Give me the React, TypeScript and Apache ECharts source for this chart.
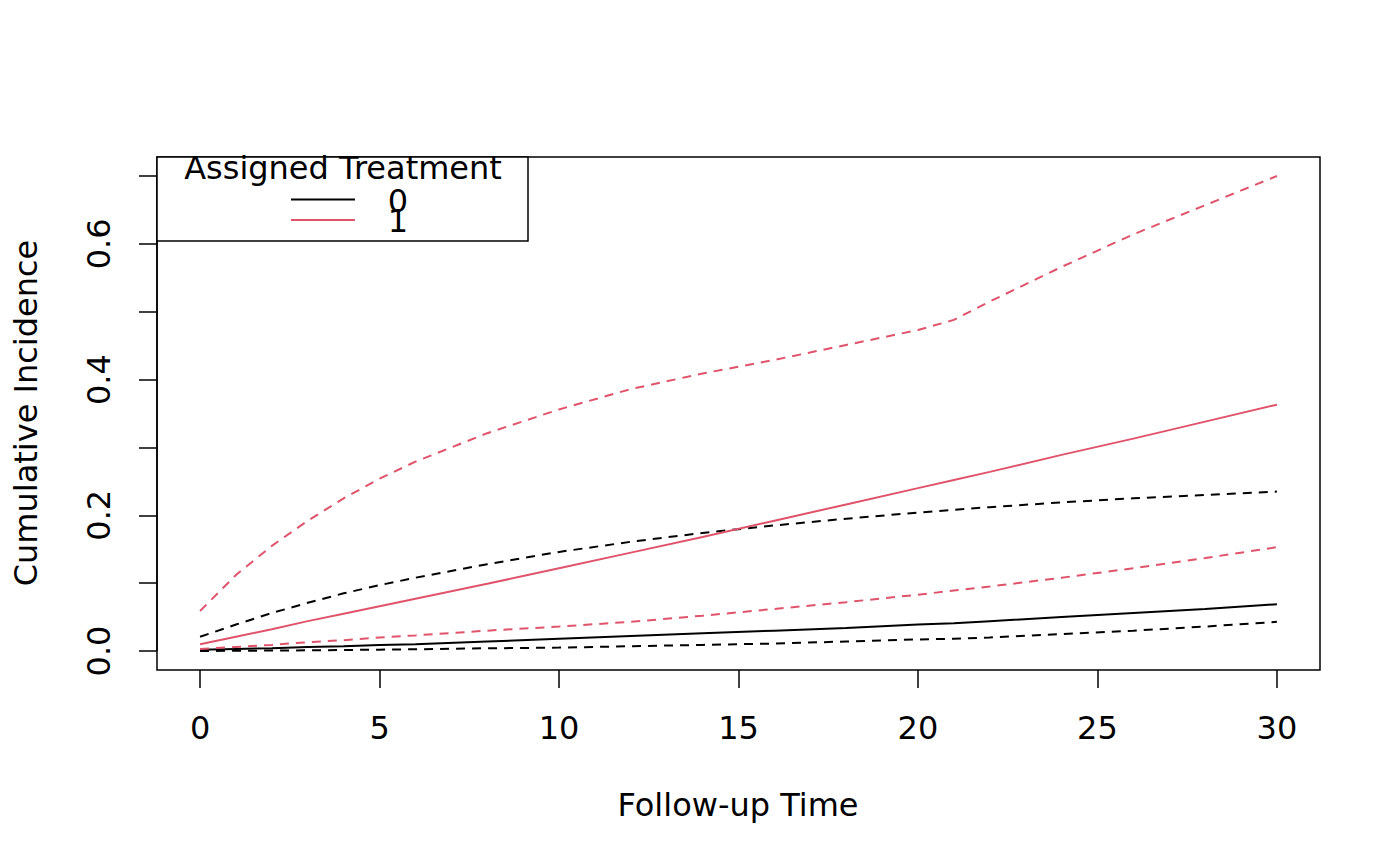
import React, { useEffect, useRef } from "react";
import * as echarts from "echarts";

// Follow-up times at which values were read
const times = [0, 1, 2, 3, 4, 5, 6, 8, 10, 12, 14, 16, 18, 20, 21, 22, 24, 26, 28, 30];

// Assigned treatment 0 (black)
const trt0Est = [0.002, 0.003, 0.004, 0.006, 0.007, 0.009, 0.010, 0.014, 0.018, 0.022, 0.026, 0.030, 0.034, 0.039, 0.041, 0.044, 0.050, 0.056, 0.062, 0.069];
const trt0Lower = [0.000, 0.0003, 0.0007, 0.001, 0.0015, 0.002, 0.0025, 0.004, 0.005, 0.007, 0.009, 0.011, 0.014, 0.017, 0.018, 0.020, 0.025, 0.030, 0.036, 0.043];
const trt0Upper = [0.021, 0.039, 0.056, 0.071, 0.085, 0.097, 0.108, 0.128, 0.146, 0.161, 0.174, 0.185, 0.195, 0.204, 0.208, 0.212, 0.219, 0.225, 0.230, 0.235];

// Assigned treatment 1 (red)
const trt1Est = [0.010, 0.021, 0.032, 0.044, 0.055, 0.066, 0.077, 0.099, 0.122, 0.145, 0.168, 0.192, 0.216, 0.240, 0.252, 0.264, 0.289, 0.313, 0.338, 0.363];
const trt1Lower = [0.003, 0.006, 0.009, 0.013, 0.016, 0.020, 0.023, 0.030, 0.036, 0.043, 0.052, 0.062, 0.072, 0.083, 0.089, 0.095, 0.108, 0.122, 0.137, 0.153];
const trt1Upper = [0.059, 0.112, 0.155, 0.192, 0.225, 0.254, 0.279, 0.321, 0.356, 0.386, 0.409, 0.429, 0.451, 0.473, 0.488, 0.515, 0.566, 0.614, 0.657, 0.700];

// Axes
const xTicks = [0, 5, 10, 15, 20, 25, 30];
const yTicks = [0, 0.1, 0.2, 0.3, 0.4, 0.5, 0.6, 0.7];
const yLabelValues = [0, 0.2, 0.4, 0.6];
const xTitle = "Follow-up Time";
const yTitle = "Cumulative Incidence";

// Legend
const legendTitle = "Assigned Treatment";
const legendLabels = ["0", "1"];

const RED = "#DF536B";
const BLACK = "#000000";
const FONT = "DejaVu Sans";
const FS = 32;

const pairs = (ys: number[]) => times.map((t, i) => [t, ys[i]]);

export default function App() {
  const ref = useRef<HTMLDivElement>(null);
  useEffect(() => {
    if (!ref.current) return;
    const chart = echarts.init(ref.current, undefined, { renderer: "svg" });
    const mk = (name: string, ys: number[], color: string, dashed: boolean) => ({
      name,
      type: "line",
      data: pairs(ys),
      showSymbol: false,
      smooth: false,
      lineStyle: { color, width: 2, type: dashed ? [9, 7] : "solid" },
      silent: true,
    });
    chart.setOption({
      animation: false,
      backgroundColor: "#ffffff",
      textStyle: { fontFamily: FONT },
      grid: {
        left: 157,
        top: 157,
        right: 80,
        bottom: 196,
        show: true,
        borderColor: "#000",
        borderWidth: 1.5,
        backgroundColor: "transparent",
        containLabel: false,
        outerBoundsMode: "none",
      },
      xAxis: {
        type: "value",
        min: -1.2,
        max: 31.2,
        splitLine: { show: false },
        axisLine: { show: false, onZero: false },
        axisTick: {
          show: true,
          length: 18,
          inside: false,
          customValues: xTicks,
          lineStyle: { color: "#000", width: 1.5 },
        },
        axisLabel: {
          show: true,
          customValues: xTicks,
          margin: 42,
          fontSize: FS,
          color: "#000",
          fontFamily: FONT,
          formatter: (v: number) => String(v),
        },
      },
      yAxis: {
        type: "value",
        min: -0.028,
        max: 0.728,
        splitLine: { show: false },
        axisLine: { show: false, onZero: false },
        axisTick: {
          show: true,
          length: 18,
          inside: false,
          customValues: yTicks,
          lineStyle: { color: "#000", width: 1.5 },
        },
        axisLabel: {
          show: true,
          customValues: yLabelValues,
          rotate: 90,
          margin: 42,
          fontSize: FS,
          color: "#000",
          fontFamily: FONT,
          formatter: (v: number) => v.toFixed(1),
        },
      },
      graphic: [
        {
          type: "line",
          shape: { x1: 157, y1: 651 - 0.7 * 678.3, x2: 157, y2: 651 },
          style: { stroke: "#000", lineWidth: 1.5 },
          silent: true,
        },
        {
          type: "text",
          x: 738,
          y: 805,
          style: { text: xTitle, fontSize: FS, fontFamily: FONT, fill: "#000", textAlign: "center", textVerticalAlign: "middle" },
          silent: true,
        },
        {
          type: "text",
          x: 26,
          y: 413,
          rotation: Math.PI / 2,
          style: { text: yTitle, fontSize: FS, fontFamily: FONT, fill: "#000", textAlign: "center", textVerticalAlign: "middle" },
          silent: true,
        },
        {
          type: "group",
          z: 100,
          children: [
            {
              type: "rect",
              shape: { x: 157, y: 157, width: 371, height: 84 },
              style: { fill: "#ffffff", stroke: "#000", lineWidth: 1.5 },
              silent: true,
            },
            {
              type: "text",
              x: 343,
              y: 168,
              style: { text: legendTitle, fontSize: FS, fontFamily: FONT, fill: "#000", textAlign: "center", textVerticalAlign: "middle" },
              silent: true,
            },
            {
              type: "line",
              shape: { x1: 291, y1: 199.5, x2: 355, y2: 199.5 },
              style: { stroke: BLACK, lineWidth: 2 },
              silent: true,
            },
            {
              type: "line",
              shape: { x1: 291, y1: 220, x2: 355, y2: 220 },
              style: { stroke: RED, lineWidth: 2 },
              silent: true,
            },
            {
              type: "text",
              x: 398,
              y: 201,
              style: { text: legendLabels[0], fontSize: FS, fontFamily: FONT, fill: "#000", textAlign: "center", textVerticalAlign: "middle" },
              silent: true,
            },
            {
              type: "text",
              x: 398,
              y: 221,
              style: { text: legendLabels[1], fontSize: FS, fontFamily: FONT, fill: "#000", textAlign: "center", textVerticalAlign: "middle" },
              silent: true,
            },
          ],
        },
      ],
      series: [
        mk("0", trt0Est, BLACK, false),
        mk("0 lower", trt0Lower, BLACK, true),
        mk("0 upper", trt0Upper, BLACK, true),
        mk("1", trt1Est, RED, false),
        mk("1 lower", trt1Lower, RED, true),
        mk("1 upper", trt1Upper, RED, true),
      ],
    });
    return () => chart.dispose();
  }, []);
  return (
    <div
      ref={ref}
      style={{ position: "fixed", left: 0, top: 0, width: 1400, height: 866, background: "#fff" }}
    />
  );
}
